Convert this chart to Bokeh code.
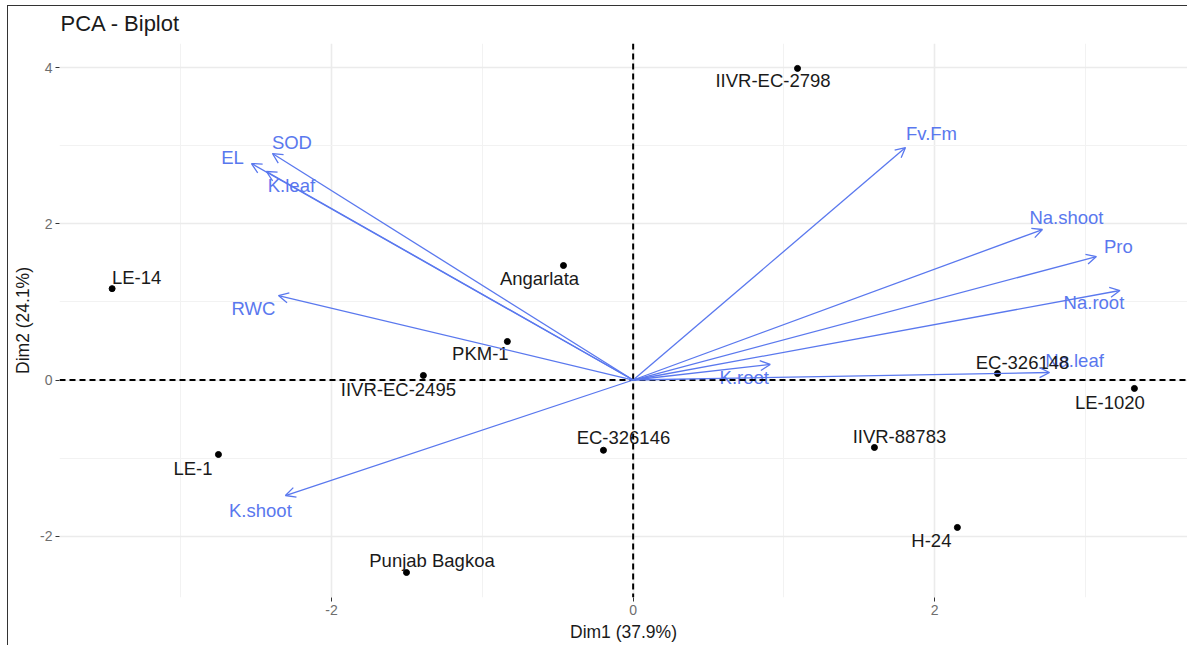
from bokeh.plotting import figure
from bokeh.layouts import column
from bokeh.models import ColumnDataSource, Range1d, Span, Arrow, OpenHead, FixedTicker
from bokeh.core.properties import value
from bokeh.embed import file_html
from bokeh.resources import INLINE

# ---------------- data ----------------
title_text = "PCA - Biplot"
x_title = "Dim1 (37.9%)"
y_title = "Dim2 (24.1%)"
x_ticks = [-2, 0, 2]
y_ticks = [-2, 0, 2, 4]

ind_names = ["IIVR-EC-2798", "LE-14", "Angarlata", "PKM-1", "IIVR-EC-2495", "LE-1",
             "EC-326146", "Punjab Bagkoa", "IIVR-88783", "H-24", "EC-326148", "LE-1020"]
ind_dim1 = [1.09, -3.455, -0.462, -0.834, -1.391, -2.75, -0.197, -1.503, 1.60, 2.15, 2.416, 3.324]
ind_dim2 = [3.99, 1.17, 1.466, 0.493, 0.058, -0.954, -0.90, -2.465, -0.864, -1.888, 0.083, -0.108]

var_names = ["SOD", "EL", "K.leaf", "RWC", "K.shoot", "Fv.Fm", "Na.shoot", "Pro",
             "Na.root", "K.root", "Na.leaf"]
var_dim1 = [-2.392, -2.531, -2.432, -2.352, -2.306, 1.806, 2.714, 3.072, 3.228, 0.909, 2.761]
var_dim2 = [2.900, 2.772, 2.670, 1.082, -1.479, 2.977, 1.927, 1.581, 1.146, 0.199, 0.096]

# ---------------- layout (label offsets in screen pixels, repel-like) ----------------
ind_dx = [-24.5, 24.5, -24, -27, -25, -25.5, 20, 25.5, 25, -26, 25, -24.5]
ind_dy = [12, -11, 13, 12, 14, 14, -13, -12, -11, 13, -11, 14]
var_dx = [19.5, -19, 25, -25, -25, 26, 24, 22, -26, -26, 25]
var_dy = [-11, -6, 14, 13, 15, -14, -12, -10, 12, 13, -12]

FONT = "Liberation Sans"
BLUE = "#5a78ee"

p = figure(frame_width=1128, frame_height=554,
           x_range=Range1d(-3.804, 3.676), y_range=Range1d(-2.785, 4.309),
           output_backend="svg", toolbar_location=None,
           min_border_left=51, min_border_right=0, min_border_top=43, min_border_bottom=48)
p.styles = {"margin-top": "-6px"}
p.outline_line_color = None
p.background_fill_color = "white"
p.border_fill_alpha = 0

p.title.text = title_text
p.title.text_font = FONT
p.title.text_font_size = "22px"
p.title.text_font_style = "normal"
p.title.text_color = "#1a1a1a"
p.title.align = "left"
p.title.offset = 1
p.title.standoff = 16

for ax, ticks, ttl in ((p.xaxis[0], x_ticks, x_title), (p.yaxis[0], y_ticks, y_title)):
    ax.ticker = FixedTicker(ticks=ticks, minor_ticks=[])
    ax.major_label_overrides = {t: str(t) for t in ticks}
    ax.axis_label = ttl
    ax.axis_label_text_font = FONT
    ax.axis_label_text_font_size = "17.5px"
    ax.axis_label_text_font_style = "normal"
    ax.axis_label_text_color = "#1a1a1a"
    ax.major_label_text_font = FONT
    ax.major_label_text_font_size = "14px"
    ax.major_label_text_color = "#6e6e6e"
    ax.axis_line_color = None
    ax.major_tick_line_color = "#333333"
    ax.major_tick_out = 4
    ax.major_tick_in = 0
    ax.minor_tick_line_color = None
    ax.major_label_standoff = 3
    ax.axis_label_standoff = 4

p.xgrid[0].ticker = FixedTicker(ticks=x_ticks, minor_ticks=[-3, -1, 1, 3])
p.ygrid[0].ticker = FixedTicker(ticks=y_ticks, minor_ticks=[-1, 1, 3])
for g in (p.xgrid[0], p.ygrid[0]):
    g.grid_line_color = "#ebebeb"
    g.grid_line_width = 1.6
    g.minor_grid_line_color = "#f2f2f2"
    g.minor_grid_line_width = 1

p.add_layout(Span(location=0, dimension="width", line_color="black", line_width=2, line_dash="6 4"))
p.add_layout(Span(location=0, dimension="height", line_color="black", line_width=2, line_dash="6 4"))

# variable arrows
vsrc = ColumnDataSource(dict(x0=[0] * len(var_names), y0=[0] * len(var_names),
                             x1=var_dim1, y1=var_dim2, name=var_names,
                             dx=var_dx, dy=var_dy))
p.add_layout(Arrow(source=vsrc, x_start="x0", y_start="y0", x_end="x1", y_end="y1",
                   line_color=BLUE, line_width=1.3,
                   end=OpenHead(size=10, line_color=BLUE, line_width=1.3)))
p.text(x="x1", y="y1", text="name", x_offset="dx", y_offset="dy", source=vsrc,
       text_font=value(FONT), text_font_size="18.5px", text_color=BLUE,
       text_align="center", text_baseline="middle")

# individuals
isrc = ColumnDataSource(dict(x=ind_dim1, y=ind_dim2, name=ind_names, dx=ind_dx, dy=ind_dy))
p.scatter(x="x", y="y", source=isrc, size=6, color="black")
p.text(x="x", y="y", text="name", x_offset="dx", y_offset="dy", source=isrc,
       text_font=value(FONT), text_font_size="18.5px", text_color="#1a1a1a",
       text_align="center", text_baseline="middle")

page = column(p, styles={"border-left": "1px solid #333333", "border-top": "1px solid #333333",
                         "margin-left": "7px", "margin-top": "5px"})

open("out.html", "w").write(file_html(page, INLINE))
